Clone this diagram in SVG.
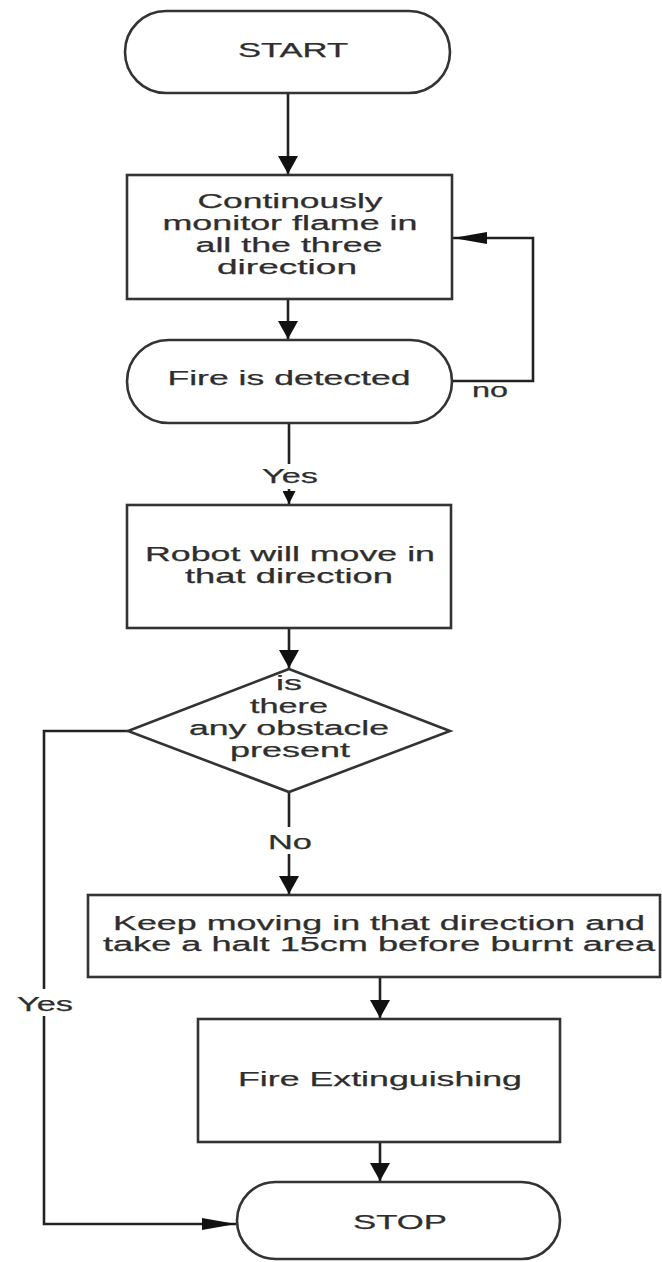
<svg xmlns="http://www.w3.org/2000/svg" width="662" height="1262" viewBox="0 0 662 1262">
<style>
.shape{fill:#fff;stroke:#333;stroke-width:2.6}
.line{fill:none;stroke:#222;stroke-width:2.6}
.t{font-family:"Liberation Sans",Arial,sans-serif;font-size:20px;fill:#2e2e2e;stroke:#2e2e2e;stroke-width:0.25;text-anchor:middle}
.lbl{fill:#fff;stroke:none}
</style>
<defs>
<marker id="av" markerUnits="userSpaceOnUse" markerWidth="18" markerHeight="20" refX="18" refY="10" orient="auto"><path d="M0,0 L18,10 L0,20 z" fill="#111"/></marker>
<marker id="as" markerUnits="userSpaceOnUse" markerWidth="13" markerHeight="13" refX="13" refY="6.5" orient="auto"><path d="M0,0 L13,6.5 L0,13 z" fill="#111"/></marker>
<marker id="ah" markerUnits="userSpaceOnUse" markerWidth="34" markerHeight="12" refX="34" refY="6" orient="auto"><path d="M0,0 L34,6 L0,12 z" fill="#111"/></marker>
</defs>
<g id="connectors">
<path class="line" d="M288,93 V174" marker-end="url(#av)"/>
<path class="line" d="M288,299 V339" marker-end="url(#av)"/>
<path class="line" d="M452,381 H533 V238 H453" marker-end="url(#ah)"/>
<path class="line" d="M289,423 V504" marker-end="url(#as)"/>
<path class="line" d="M289,628 V668" marker-end="url(#av)"/>
<path class="line" d="M289,792 V894" marker-end="url(#av)"/>
<path class="line" d="M128,731 H44 V1224 H236" marker-end="url(#ah)"/>
<path class="line" d="M380,977 V1018" marker-end="url(#av)"/>
<path class="line" d="M380,1142 V1181" marker-end="url(#av)"/>
<rect class="lbl" x="258" y="464" width="64" height="25"/>
<text class="t" x="290" y="483" textLength="56" lengthAdjust="spacingAndGlyphs">Yes</text>
<rect class="lbl" x="262" y="827" width="54" height="27"/>
<text class="t" x="290" y="849" textLength="44" lengthAdjust="spacingAndGlyphs">No</text>
<rect class="lbl" x="14" y="989" width="62" height="27"/>
<text class="t" x="45" y="1011" textLength="56" lengthAdjust="spacingAndGlyphs">Yes</text>
<text class="t" x="490" y="397" textLength="36" lengthAdjust="spacingAndGlyphs">no</text>
</g>
<g id="start">
<rect class="shape" x="125" y="11" width="325" height="82" rx="41"/>
<text class="t" x="293" y="57" textLength="110" lengthAdjust="spacingAndGlyphs">START</text>
</g>
<g id="monitor">
<rect class="shape" x="127" y="175" width="325" height="124"/>
<text class="t" x="290" y="208" textLength="185" lengthAdjust="spacingAndGlyphs">Continously</text>
<text class="t" x="290" y="230" textLength="255" lengthAdjust="spacingAndGlyphs">monitor flame in</text>
<text class="t" x="289" y="252" textLength="187" lengthAdjust="spacingAndGlyphs">all the three</text>
<text class="t" x="287" y="274" textLength="140" lengthAdjust="spacingAndGlyphs">direction</text>
</g>
<g id="fire-detected">
<rect class="shape" x="127" y="340" width="325" height="83" rx="41.5"/>
<text class="t" x="289" y="385" textLength="243" lengthAdjust="spacingAndGlyphs">Fire is detected</text>
</g>
<g id="robot-move">
<rect class="shape" x="127" y="505" width="324" height="123"/>
<text class="t" x="290" y="561" textLength="290" lengthAdjust="spacingAndGlyphs">Robot will move in</text>
<text class="t" x="289" y="583" textLength="208" lengthAdjust="spacingAndGlyphs">that direction</text>
</g>
<g id="obstacle">
<polygon class="shape" points="289,669 450,731 289,792 128,731"/>
<text class="t" x="289" y="690" textLength="26" lengthAdjust="spacingAndGlyphs">is</text>
<text class="t" x="289" y="713" textLength="78" lengthAdjust="spacingAndGlyphs">there</text>
<text class="t" x="289" y="735" textLength="200" lengthAdjust="spacingAndGlyphs">any obstacle</text>
<text class="t" x="290" y="757" textLength="120" lengthAdjust="spacingAndGlyphs">present</text>
</g>
<g id="keep-moving">
<rect class="shape" x="88" y="895" width="572" height="82"/>
<text class="t" x="379" y="930" textLength="532" lengthAdjust="spacingAndGlyphs">Keep moving in that direction and</text>
<text class="t" x="379" y="951" textLength="552" lengthAdjust="spacingAndGlyphs">take a halt 15cm before burnt area</text>
</g>
<g id="extinguish">
<rect class="shape" x="198" y="1019" width="362" height="123"/>
<text class="t" x="380" y="1086" textLength="284" lengthAdjust="spacingAndGlyphs">Fire Extinguishing</text>
</g>
<g id="stop">
<rect class="shape" x="237" y="1182" width="323" height="77" rx="38.5"/>
<text class="t" x="400" y="1229" textLength="94" lengthAdjust="spacingAndGlyphs">STOP</text>
</g>
</svg>
